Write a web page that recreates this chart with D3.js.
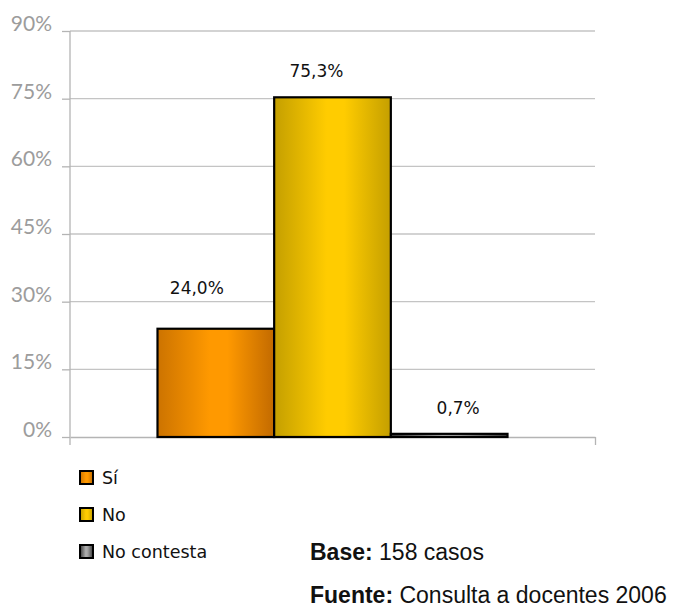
<!DOCTYPE html>
<html>
<head>
<meta charset="utf-8">
<script src="https://cdn.jsdelivr.net/npm/d3@7"></script>
<style>
  html, body { margin: 0; padding: 0; background: #fff; }
  svg { display: block; }
</style>
</head>
<body>
<svg id="chart" width="681" height="608"></svg>
<script>
// ---- data ----
const series = ["Sí", "No", "No contesta"];
const values = [24.0, 75.3, 0.7];
const valueLabels = ["24,0%", "75,3%", "0,7%"];
const yTicks = [0, 15, 30, 45, 60, 75, 90];
const yTickLabels = ["0%", "15%", "30%", "45%", "60%", "75%", "90%"];
const baseText = ["Base:", " 158 casos"];
const sourceText = ["Fuente:", " Consulta a docentes 2006"];

// ---- styles / layout ----
const gradStops = [
  [["0%", "#cc7300"], ["45%", "#ff9900"], ["60%", "#ff9900"], ["100%", "#c26a00"]],
  [["0%", "#c49f00"], ["45%", "#ffcc00"], ["60%", "#ffcc00"], ["100%", "#c49f00"]],
  [["0%", "#3a3a3a"], ["45%", "#b0b0b0"], ["60%", "#a0a0a0"], ["100%", "#3a3a3a"]]
];
const labelNudge = [[-19, -15], [-16, 0], [9, 0]];

const svg = d3.select("#chart");
const mLeft = 70, mRight = 595, mTop = 31, mBottom = 437;

const x = d3.scaleBand().domain(series).range([mLeft, mRight]).paddingInner(0).paddingOuter(0.75);
const y = d3.scaleLinear().domain([0, 90]).range([mBottom, mTop]);

const defs = svg.append("defs");
series.forEach((s, i) => {
  const g = defs.append("linearGradient").attr("id", "g" + i)
    .attr("x1", "0%").attr("x2", "100%").attr("y1", "0%").attr("y2", "0%");
  gradStops[i].forEach(st => g.append("stop").attr("offset", st[0]).attr("stop-color", st[1]));
});

// gridlines
svg.append("g").selectAll("line").data(yTicks.filter(t => t > 0)).join("line")
  .attr("x1", mLeft).attr("x2", mRight)
  .attr("y1", d => y(d)).attr("y2", d => y(d))
  .attr("stroke", "#c4c4c4").attr("stroke-width", 1.3);

// y axis
const yAxis = d3.axisLeft(y).tickValues(yTicks)
  .tickFormat((d, i) => yTickLabels[i]).tickSize(8).tickPadding(10);
const ya = svg.append("g").attr("transform", `translate(${mLeft},0)`).call(yAxis);
ya.select(".domain").remove();
ya.selectAll(".tick line").attr("stroke", "#b4b4b4").attr("stroke-width", 1.3);
ya.selectAll(".tick text")
  .attr("fill", "#9c9c9c")
  .style("font-family", "Lato, sans-serif")
  .style("font-size", "21px")
  .attr("dy", "-0.02em");
svg.append("line").attr("x1", mLeft).attr("x2", mLeft).attr("y1", mTop).attr("y2", mBottom + 8)
  .attr("stroke", "#b4b4b4").attr("stroke-width", 1.3);

// x axis (single category)
const xAxisScale = d3.scaleLinear().domain([0, 1]).range([mLeft, mRight]);
const xa = svg.append("g").attr("transform", `translate(0,${mBottom})`)
  .call(d3.axisBottom(xAxisScale).tickValues([1]).tickFormat("").tickSize(8).tickSizeOuter(0));
xa.select(".domain").attr("stroke", "#b4b4b4").attr("stroke-width", 1.3);
xa.selectAll(".tick line").attr("stroke", "#b4b4b4").attr("stroke-width", 1.3);

// bars
svg.append("g").selectAll("rect").data(series).join("rect")
  .attr("x", d => x(d))
  .attr("y", (d, i) => y(values[i]))
  .attr("width", x.bandwidth())
  .attr("height", (d, i) => y(0) - y(values[i]))
  .attr("fill", (d, i) => `url(#g${i})`)
  .attr("stroke", "#000").attr("stroke-width", 2.2);

// value labels
svg.append("g").selectAll("text").data(series).join("text")
  .attr("x", (d, i) => x(d) + x.bandwidth() / 2 + labelNudge[i][0])
  .attr("y", (d, i) => y(values[i]) - 20 + labelNudge[i][1])
  .attr("text-anchor", "middle")
  .style("font-family", "'DejaVu Sans', sans-serif")
  .style("font-size", "17px")
  .attr("fill", "#111")
  .text((d, i) => valueLabels[i]);

// legend
const lg = svg.append("g").selectAll("g").data(series).join("g")
  .attr("transform", (d, i) => `translate(80,${471 + i * 37})`);
lg.append("rect").attr("width", 13).attr("height", 13)
  .attr("fill", (d, i) => `url(#g${i})`)
  .attr("stroke", "#000").attr("stroke-width", 2);
lg.append("text").attr("x", 22).attr("y", 13)
  .style("font-family", "'DejaVu Sans', sans-serif")
  .style("font-size", "17.5px")
  .attr("fill", "#111")
  .text(d => d);

// footnotes
[baseText, sourceText].forEach((t, i) => {
  const tx = svg.append("text").attr("x", 310).attr("y", 560 + i * 43)
    .style("font-family", "'Liberation Sans', Arial, sans-serif")
    .style("font-size", "23px").attr("fill", "#111");
  tx.append("tspan").attr("font-weight", "bold").text(t[0]);
  tx.append("tspan").text(t[1]);
});
</script>
</body>
</html>
